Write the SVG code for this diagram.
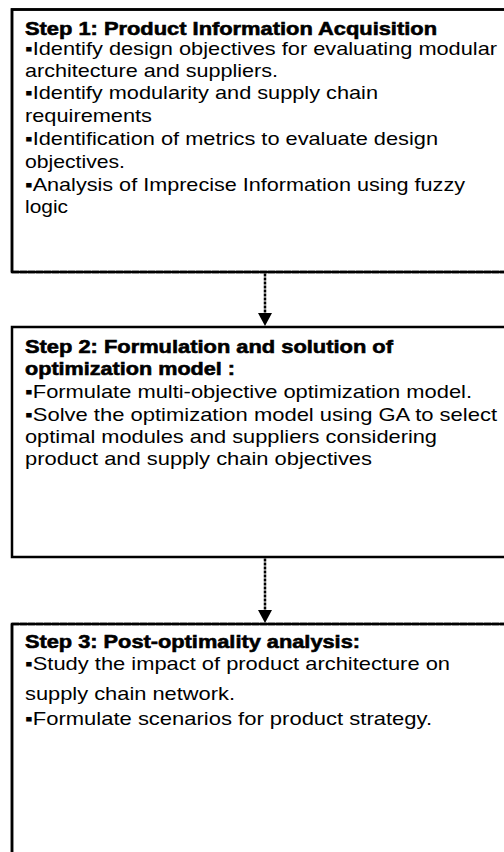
<svg xmlns="http://www.w3.org/2000/svg" width="504" height="852" viewBox="0 0 504 852">
<defs>
<style>
.box{fill:#fff;stroke:#000;stroke-width:2.5}
.edge{fill:none;stroke:#000;stroke-width:2.5}
.rough{fill:none;stroke:#000;stroke-width:2.5;stroke-dasharray:7 1}
.conn{fill:none;stroke:#000;stroke-width:2.5;stroke-dasharray:3 1}
.h{font-family:"Liberation Sans","DejaVu Sans",sans-serif;font-size:19px;font-weight:700;fill:#000;stroke:#000;stroke-width:0.6}
.t{font-family:"Liberation Sans","DejaVu Sans",sans-serif;font-size:18.5px;fill:#000}
</style>
<marker id="ah" viewBox="0 0 13 14" markerUnits="userSpaceOnUse" markerWidth="13" markerHeight="14" refX="0" refY="7" orient="auto">
<path d="M0,0 L13,7 L0,14 z" fill="#000"/>
</marker>
</defs>
<rect width="504" height="852" fill="#fff"/>

<g id="step1">
<rect class="box" x="12" y="9.5" width="500" height="262.5" stroke="none"/>
<path class="edge" d="M515,9.5 H12 V272"/>
<path class="rough" d="M12,272 H515"/>
<text class="h" x="25" y="35" textLength="412" lengthAdjust="spacingAndGlyphs">Step 1: Product Information Acquisition</text>
<text class="t" x="25" y="55" textLength="472" lengthAdjust="spacingAndGlyphs">▪Identify design objectives for evaluating modular</text>
<text class="t" x="25" y="77" textLength="253" lengthAdjust="spacingAndGlyphs">architecture and suppliers.</text>
<text class="t" x="25" y="99" textLength="353" lengthAdjust="spacingAndGlyphs">▪Identify modularity and supply chain</text>
<text class="t" x="25" y="122" textLength="127" lengthAdjust="spacingAndGlyphs">requirements</text>
<text class="t" x="25" y="145" textLength="413" lengthAdjust="spacingAndGlyphs">▪Identification of metrics to evaluate design</text>
<text class="t" x="25" y="168" textLength="100" lengthAdjust="spacingAndGlyphs">objectives.</text>
<text class="t" x="25" y="191" textLength="440" lengthAdjust="spacingAndGlyphs">▪Analysis of Imprecise Information using fuzzy</text>
<text class="t" x="25" y="213" textLength="43" lengthAdjust="spacingAndGlyphs">logic</text>
</g>

<g id="step2">
<rect class="box" x="12" y="327" width="500" height="230"/>
<text class="h" x="25" y="353" textLength="368" lengthAdjust="spacingAndGlyphs">Step 2: Formulation and solution of</text>
<text class="h" x="25" y="375" textLength="210" lengthAdjust="spacingAndGlyphs">optimization model :</text>
<text class="t" x="25" y="398" textLength="447" lengthAdjust="spacingAndGlyphs">▪Formulate multi-objective optimization model.</text>
<text class="t" x="25" y="421" textLength="472" lengthAdjust="spacingAndGlyphs">▪Solve the optimization model using GA to select</text>
<text class="t" x="25" y="443" textLength="412" lengthAdjust="spacingAndGlyphs">optimal modules and suppliers considering</text>
<text class="t" x="25" y="465" textLength="347" lengthAdjust="spacingAndGlyphs">product and supply chain objectives</text>
</g>

<g id="step3">
<rect class="box" x="12" y="624" width="500" height="240" stroke="none"/>
<path class="rough" d="M12,624 H515"/>
<path class="edge" d="M12,624 V860"/>
<text class="h" x="25" y="648" textLength="335" lengthAdjust="spacingAndGlyphs">Step 3: Post-optimality analysis:</text>
<text class="t" x="25" y="670" textLength="425" lengthAdjust="spacingAndGlyphs">▪Study the impact of product architecture on</text>
<text class="t" x="25" y="700" textLength="210" lengthAdjust="spacingAndGlyphs">supply chain network.</text>
<text class="t" x="25" y="725" textLength="407" lengthAdjust="spacingAndGlyphs">▪Formulate scenarios for product strategy.</text>
</g>

<g id="connectors">
<line class="conn" x1="265" y1="273.5" x2="265" y2="313" marker-end="url(#ah)"/>
<line class="conn" x1="265" y1="558.5" x2="265" y2="610" marker-end="url(#ah)"/>
</g>
</svg>
